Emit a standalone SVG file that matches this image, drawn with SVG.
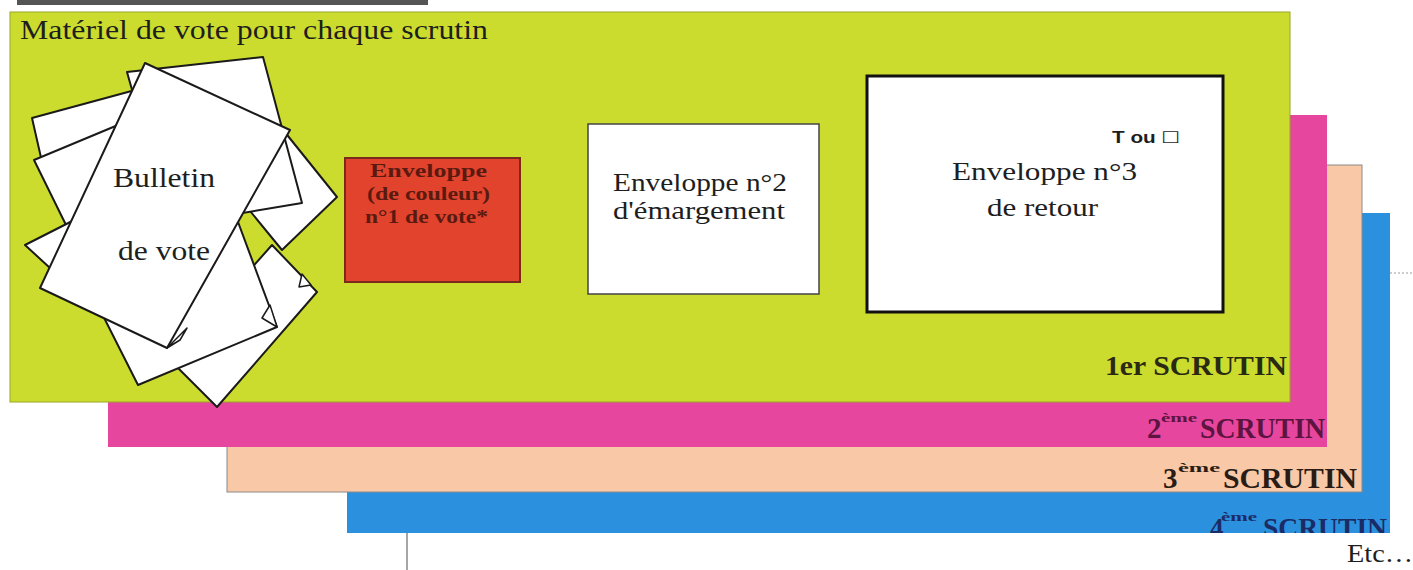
<svg xmlns="http://www.w3.org/2000/svg" width="1413" height="570" viewBox="0 0 1413 570">
<style>
.serif{font-family:"Liberation Serif","Times New Roman",serif;fill:#1e1e1e}
.sheet{fill:#ffffff;stroke:#1a1a1a;stroke-width:2;stroke-linejoin:round}
.fold{fill:#ffffff;stroke:#1a1a1a;stroke-width:1.5;stroke-linejoin:round}
.lbl{font-family:"Liberation Serif","Times New Roman",serif;font-weight:bold}
.sup{font-family:"Liberation Serif","Times New Roman",serif;font-weight:bold;font-size:13px}
</style>
<defs>
<clipPath id="blueClip"><rect x="347" y="213" width="1043" height="320"/></clipPath>
</defs>
<rect x="0" y="0" width="1413" height="570" fill="#ffffff"/>
<rect x="17" y="0" width="411" height="5" fill="#555555"/>

<g id="scrutin4">
<rect x="347" y="213" width="1043" height="320" fill="#2b91df"/>
<g clip-path="url(#blueClip)" fill="#1b2b66">
<text class="lbl" x="1210" y="537" font-size="27">4</text>
<text class="sup" x="1221" y="521" textLength="36" lengthAdjust="spacingAndGlyphs">ème</text>
<text class="lbl" x="1263" y="537" font-size="27" textLength="124" lengthAdjust="spacingAndGlyphs">SCRUTIN</text>
</g>
</g>
<g id="scrutin3">
<rect x="227" y="165" width="1135" height="327" fill="#f9c8a6" stroke="#8a8a8a" stroke-width="1"/>
<g fill="#2a1c14">
<text class="lbl" x="1163" y="488" font-size="29">3</text>
<text class="sup" x="1178" y="472" textLength="42" lengthAdjust="spacingAndGlyphs">ème</text>
<text class="lbl" x="1223" y="488" font-size="29" textLength="134" lengthAdjust="spacingAndGlyphs">SCRUTIN</text>
</g>
</g>
<g id="scrutin2">
<rect x="108" y="115" width="1219" height="332" fill="#e6469d"/>
<g fill="#5e1440">
<text class="lbl" x="1147" y="438" font-size="29">2</text>
<text class="sup" x="1161" y="422" textLength="36" lengthAdjust="spacingAndGlyphs">ème</text>
<text class="lbl" x="1200" y="438" font-size="29" textLength="125" lengthAdjust="spacingAndGlyphs">SCRUTIN</text>
</g>
</g>
<g id="scrutin1">
<rect x="10" y="12" width="1280" height="390" fill="#cbdc2e" stroke="#9aa624" stroke-width="1"/>
<text class="lbl" x="1105" y="375" font-size="28" fill="#2a2a12" textLength="182" lengthAdjust="spacingAndGlyphs">1er SCRUTIN</text>
<text class="serif" x="20" y="39" font-size="28" textLength="468" lengthAdjust="spacingAndGlyphs">Matériel de vote pour chaque scrutin</text>
</g>

<g id="bulletins">
<polygon class="sheet" points="255,95 337,197 282,250 200,150"/>
<polygon class="sheet" points="127,72 263,57 302,203 170,225"/>
<polygon class="sheet" points="170,360 217,407 317,292 272,245"/>
<polygon class="fold" points="311,285 302,274 299,287"/>
<polygon class="sheet" points="85,280 138,385 277,327 228,195"/>
<polygon class="fold" points="277,327 270,305 262,318"/>
<polygon class="sheet" points="32,118 150,86 175,160 42,162"/>
<polygon class="sheet" points="34,160 130,120 150,200 67,227"/>
<polygon class="sheet" points="25,245 90,212 120,280 50,268"/>
<polygon class="sheet" points="145,63 290,130 167,348 40,288"/>
<polygon class="fold" points="167,348 187,328 180,340"/>
<text class="serif" x="113" y="187" font-size="27" textLength="102" lengthAdjust="spacingAndGlyphs">Bulletin</text>
<text class="serif" x="118" y="260" font-size="27" textLength="92" lengthAdjust="spacingAndGlyphs">de vote</text>
</g>

<g id="enveloppe1">
<rect x="345" y="158" width="175" height="124" fill="#e1432d" stroke="#7a2a1a" stroke-width="2"/>
<g fill="#5a1a10">
<text x="370" y="177" font-size="18" font-weight="bold" font-family="Liberation Serif, serif" textLength="117" lengthAdjust="spacingAndGlyphs">Enveloppe</text>
<text x="367" y="200" font-size="18" font-weight="bold" font-family="Liberation Serif, serif" textLength="123" lengthAdjust="spacingAndGlyphs">(de couleur)</text>
<text x="365" y="223" font-size="18" font-weight="bold" font-family="Liberation Serif, serif" textLength="123" lengthAdjust="spacingAndGlyphs">n°1 de vote*</text>
</g>
</g>

<g id="enveloppe2">
<rect x="588" y="124" width="231" height="170" fill="#ffffff" stroke="#444444" stroke-width="1.5"/>
<text class="serif" x="613" y="191" font-size="26" textLength="174" lengthAdjust="spacingAndGlyphs">Enveloppe n°2</text>
<text class="serif" x="613" y="219" font-size="26" textLength="172" lengthAdjust="spacingAndGlyphs">d'émargement</text>
</g>

<g id="enveloppe3">
<rect x="867" y="76" width="356" height="236" fill="#ffffff" stroke="#111111" stroke-width="3"/>
<text x="1112" y="143" font-size="16" font-weight="bold" fill="#1e1e1e" font-family="Liberation Sans, DejaVu Sans, sans-serif" textLength="68" lengthAdjust="spacingAndGlyphs">T ou ☐</text>
<text class="serif" x="952" y="180" font-size="26" textLength="185" lengthAdjust="spacingAndGlyphs">Enveloppe n°3</text>
<text class="serif" x="987" y="216" font-size="26" textLength="111" lengthAdjust="spacingAndGlyphs">de retour</text>
</g>

<g id="etc">
<text class="serif" x="1347" y="562" font-size="25" textLength="66" lengthAdjust="spacingAndGlyphs">Etc…</text>
</g>

<g id="connectors">
<line x1="407" y1="533" x2="407" y2="570" stroke="#888888" stroke-width="1.5"/>
<line x1="1390" y1="273" x2="1413" y2="273" stroke="#999999" stroke-width="1" stroke-dasharray="2,2"/>
</g>
</svg>
